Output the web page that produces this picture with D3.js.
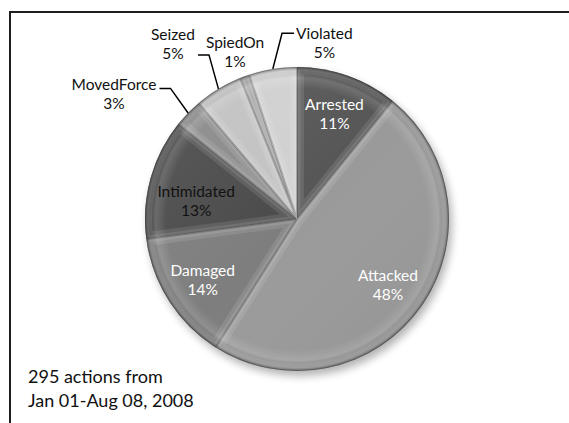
<!DOCTYPE html>
<html>
<head>
<meta charset="utf-8">
<script src="https://cdn.jsdelivr.net/npm/d3@7/dist/d3.min.js"></script>
<style>
  body { margin: 0; background: #fff; }
  svg { display: block; font-family: Lato, "Open Sans", sans-serif; }
</style>
</head>
<body>
<svg width="569" height="423"></svg>
<script>
// data (295 actions in total)
var categories = ["Arrested", "Attacked", "Damaged", "Intimidated", "MovedForce", "Seized", "SpiedOn", "Violated"];
var counts = [32, 142, 41, 38, 9, 15, 3, 15];
var noteLines = ["295 actions from", "Jan 01-Aug 08, 2008"];

// styles
var sliceColors = ["#565656", "#9a9a9a", "#7e7e7e", "#4b4b4b", "#8a8a8a", "#c2c2c2", "#a2a2a2", "#d0d0d0"];
var textColors = ["#fff", "#fff", "#fff", "#111", "#111", "#111", "#111", "#111"];

// label placement tweaks (nudges from the centroid, leader attach y)
var innerLayout = { Intimidated: { dx: 7, dy: 11 } };
var outerLayout = {
  MovedForce: { dx: -54, dy: 1, ly: -6, leader: true },
  Seized: { dx: -31, dy: -21, ly: 11, leader: true },
  SpiedOn: { dx: 0, dy: 2, ly: 0, leader: false },
  Violated: { dx: 56, dy: 2, ly: -10, leader: true }
};

var svg = d3.select("svg"),
  width = +svg.attr("width"),
  height = +svg.attr("height"),
  cx = 297, cy = 219,
  radius = 152;

var total = d3.sum(counts);
var data = categories.map(function(c, i) {
  return { name: c, value: counts[i], pct: Math.round(counts[i] / total * 100) };
});

var defs = svg.append("defs");

var shadow = defs.append("filter").attr("id", "shadow")
  .attr("x", "-20%").attr("y", "-20%").attr("width", "140%").attr("height", "140%");
shadow.append("feGaussianBlur").attr("stdDeviation", 4);

var rim = defs.append("radialGradient").attr("id", "rim")
  .attr("gradientUnits", "userSpaceOnUse")
  .attr("cx", 0).attr("cy", 0).attr("r", radius);
[[0, "#fff", 0], [0.86, "#fff", 0], [0.93, "#fff", 0.14], [0.975, "#000", 0.03], [1, "#000", 0.4]]
  .forEach(function(s) {
    rim.append("stop").attr("offset", s[0]).attr("stop-color", s[1]).attr("stop-opacity", s[2]);
  });

var light = defs.append("linearGradient").attr("id", "light")
  .attr("x1", "0").attr("y1", "0").attr("x2", "1").attr("y2", "1");
light.append("stop").attr("offset", 0).attr("stop-color", "#fff").attr("stop-opacity", 0.1);
light.append("stop").attr("offset", 0.5).attr("stop-color", "#fff").attr("stop-opacity", 0);
light.append("stop").attr("offset", 1).attr("stop-color", "#000").attr("stop-opacity", 0.08);

// frame (top and left edges only)
svg.append("path")
  .attr("d", "M10," + height + "V12H" + width)
  .attr("fill", "none")
  .attr("stroke", "#1e1e1e")
  .attr("stroke-width", 2);

var pie = d3.pie().sort(null).value(function(d) { return d.value; });
var arcs = pie(data);

var path = d3.arc().outerRadius(radius).innerRadius(0);
var labelArc = d3.arc().outerRadius(112).innerRadius(112);
var outerArc = d3.arc().outerRadius(180).innerRadius(180);
var edgeArc = d3.arc().outerRadius(radius).innerRadius(radius);

var g = svg.append("g").attr("transform", "translate(" + cx + "," + cy + ")");

g.append("circle")
  .attr("cx", 3).attr("cy", 5).attr("r", radius)
  .attr("fill", "#000").attr("opacity", 0.3)
  .attr("filter", "url(#shadow)");

var slice = g.selectAll(".slice")
  .data(arcs)
  .enter().append("g")
  .attr("class", "slice");

slice.append("clipPath")
  .attr("id", function(d) { return "clip" + d.index; })
  .append("path")
  .attr("d", path);

slice.append("path")
  .attr("d", path)
  .attr("fill", function(d) { return sliceColors[d.index]; });

// bevel: soft light band inside every slice edge, dark seam on the edge
slice.append("path")
  .attr("d", path)
  .attr("clip-path", function(d) { return "url(#clip" + d.index + ")"; })
  .attr("fill", "none")
  .attr("stroke", "#fff")
  .attr("stroke-opacity", 0.1)
  .attr("stroke-width", 14)
  .attr("stroke-linejoin", "round");

slice.append("path")
  .attr("d", path)
  .attr("clip-path", function(d) { return "url(#clip" + d.index + ")"; })
  .attr("fill", "none")
  .attr("stroke", "#fff")
  .attr("stroke-opacity", 0.1)
  .attr("stroke-width", 7)
  .attr("stroke-linejoin", "round");

slice.append("path")
  .attr("d", path)
  .attr("clip-path", function(d) { return "url(#clip" + d.index + ")"; })
  .attr("fill", "none")
  .attr("stroke", "#333")
  .attr("stroke-opacity", 0.3)
  .attr("stroke-width", 2);

g.append("circle")
  .attr("r", radius)
  .attr("fill", "url(#rim)");

g.append("circle")
  .attr("r", radius)
  .attr("fill", "url(#light)");

// labels inside the big slices
var inner = arcs.filter(function(d) { return d.data.pct >= 6; });
var innerText = g.selectAll(".inlabel")
  .data(inner)
  .enter().append("text")
  .attr("class", "inlabel")
  .attr("text-anchor", "middle")
  .attr("font-size", 15.5)
  .attr("fill", function(d) { return textColors[d.index]; })
  .attr("transform", function(d) {
    var c = labelArc.centroid(d), n = innerLayout[d.data.name] || { dx: 0, dy: 0 };
    return "translate(" + (c[0] + n.dx) + "," + (c[1] + n.dy) + ")";
  });
innerText.append("tspan").attr("x", 0).attr("y", -3).text(function(d) { return d.data.name; });
innerText.append("tspan").attr("x", 0).attr("y", 16).text(function(d) { return d.data.pct + "%"; });

// labels outside the small slices, with leader lines
var outer = arcs.filter(function(d) { return d.data.pct < 6; });
outer.forEach(function(d) {
  var lay = outerLayout[d.data.name];
  var c = outerArc.centroid(d);
  var lx = c[0] + lay.dx, ly = c[1] + lay.dy;
  var t = g.append("text")
    .attr("text-anchor", "middle")
    .attr("font-size", 15.5)
    .attr("fill", textColors[d.index]);
  t.append("tspan").attr("x", lx).attr("y", ly - 4).text(d.data.name);
  t.append("tspan").attr("x", lx).attr("y", ly + 15).text(d.data.pct + "%");
  if (!lay.leader) return;
  var bb = t.node().getBBox();
  var e = edgeArc.centroid(d);
  var left = e[0] > lx;
  var endX = left ? bb.x + bb.width + 3 : bb.x - 2;
  var y = ly + lay.ly;
  var elbowX = left ? endX + 11 : endX - 12;
  g.append("path")
    .attr("d", d3.line()([[e[0], e[1]], [elbowX, y], [endX, y]]))
    .attr("fill", "none")
    .attr("stroke", "#000")
    .attr("stroke-width", 1.5);
});

// note at the bottom left
svg.append("g").selectAll("text")
  .data(noteLines)
  .enter().append("text")
  .attr("x", 28)
  .attr("y", function(d, i) { return 383 + i * 24; })
  .attr("font-size", 18)
  .attr("fill", "#111")
  .text(function(d) { return d; });
</script>
</body>
</html>
